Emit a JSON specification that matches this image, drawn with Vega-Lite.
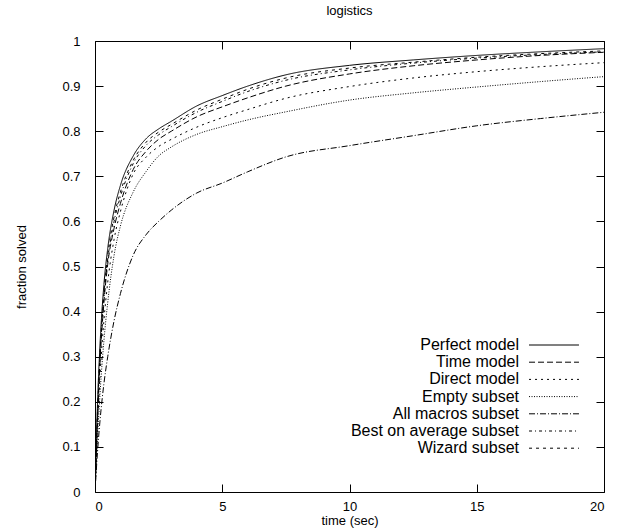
{
  "$schema": "https://vega.github.io/schema/vega-lite/v6.json",
  "width": 509,
  "height": 451,
  "autosize": {"type": "none"},
  "padding": {"left": 95, "top": 41, "right": 22, "bottom": 37},
  "background": "white",
  "title": {"text": "logistics", "font": "Liberation Sans", "fontSize": 13, "fontWeight": "normal", "color": "black", "offset": 17},
  "config": {
    "view": {"stroke": "black", "strokeWidth": 1},
    "axis": {
      "labelFont": "Liberation Sans", "labelFontSize": 13, "labelColor": "black",
      "titleFont": "Liberation Sans", "titleFontSize": 13, "titleFontWeight": "normal", "titleColor": "black",
      "domain": false, "ticks": true, "tickColor": "black", "tickWidth": 1, "tickOpacity": 1, "grid": false, "tickSize": 8, "offset": -8
    },
    "legend": {
      "labelFont": "Liberation Sans", "labelFontSize": 16, "labelColor": "black", "labelLimit": 0,
      "symbolStrokeColor": "black"
    }
  },
  "data": {
    "values": [
      {"series": "Perfect model", "t": 0, "f": 0},
      {"series": "Perfect model", "t": 0.1, "f": 0.2},
      {"series": "Perfect model", "t": 0.2, "f": 0.33},
      {"series": "Perfect model", "t": 0.35, "f": 0.46},
      {"series": "Perfect model", "t": 0.5, "f": 0.54},
      {"series": "Perfect model", "t": 0.75, "f": 0.625},
      {"series": "Perfect model", "t": 1, "f": 0.68},
      {"series": "Perfect model", "t": 1.5, "f": 0.745},
      {"series": "Perfect model", "t": 2, "f": 0.783},
      {"series": "Perfect model", "t": 2.5, "f": 0.805},
      {"series": "Perfect model", "t": 3, "f": 0.822},
      {"series": "Perfect model", "t": 4, "f": 0.856},
      {"series": "Perfect model", "t": 5, "f": 0.879},
      {"series": "Perfect model", "t": 6, "f": 0.9},
      {"series": "Perfect model", "t": 7.5, "f": 0.925},
      {"series": "Perfect model", "t": 10, "f": 0.946},
      {"series": "Perfect model", "t": 12.5, "f": 0.958},
      {"series": "Perfect model", "t": 15, "f": 0.968},
      {"series": "Perfect model", "t": 17.5, "f": 0.976},
      {"series": "Perfect model", "t": 20, "f": 0.983},

      {"series": "Time model", "t": 0, "f": 0},
      {"series": "Time model", "t": 0.1, "f": 0.16},
      {"series": "Time model", "t": 0.2, "f": 0.29},
      {"series": "Time model", "t": 0.35, "f": 0.42},
      {"series": "Time model", "t": 0.5, "f": 0.505},
      {"series": "Time model", "t": 0.75, "f": 0.585},
      {"series": "Time model", "t": 1, "f": 0.64},
      {"series": "Time model", "t": 1.5, "f": 0.715},
      {"series": "Time model", "t": 2, "f": 0.755},
      {"series": "Time model", "t": 2.5, "f": 0.782},
      {"series": "Time model", "t": 3, "f": 0.8},
      {"series": "Time model", "t": 4, "f": 0.832},
      {"series": "Time model", "t": 5, "f": 0.854},
      {"series": "Time model", "t": 6, "f": 0.874},
      {"series": "Time model", "t": 7.5, "f": 0.9},
      {"series": "Time model", "t": 10, "f": 0.927},
      {"series": "Time model", "t": 12.5, "f": 0.945},
      {"series": "Time model", "t": 15, "f": 0.958},
      {"series": "Time model", "t": 17.5, "f": 0.968},
      {"series": "Time model", "t": 20, "f": 0.975},

      {"series": "Direct model", "t": 0, "f": 0},
      {"series": "Direct model", "t": 0.1, "f": 0.15},
      {"series": "Direct model", "t": 0.2, "f": 0.26},
      {"series": "Direct model", "t": 0.35, "f": 0.38},
      {"series": "Direct model", "t": 0.5, "f": 0.465},
      {"series": "Direct model", "t": 0.75, "f": 0.56},
      {"series": "Direct model", "t": 1, "f": 0.622},
      {"series": "Direct model", "t": 1.5, "f": 0.705},
      {"series": "Direct model", "t": 2, "f": 0.742},
      {"series": "Direct model", "t": 2.5, "f": 0.766},
      {"series": "Direct model", "t": 3, "f": 0.782},
      {"series": "Direct model", "t": 4, "f": 0.809},
      {"series": "Direct model", "t": 5, "f": 0.83},
      {"series": "Direct model", "t": 6, "f": 0.848},
      {"series": "Direct model", "t": 7.5, "f": 0.873},
      {"series": "Direct model", "t": 10, "f": 0.899},
      {"series": "Direct model", "t": 12.5, "f": 0.918},
      {"series": "Direct model", "t": 15, "f": 0.932},
      {"series": "Direct model", "t": 17.5, "f": 0.943},
      {"series": "Direct model", "t": 20, "f": 0.952},

      {"series": "Empty subset", "t": 0, "f": 0},
      {"series": "Empty subset", "t": 0.1, "f": 0.12},
      {"series": "Empty subset", "t": 0.2, "f": 0.22},
      {"series": "Empty subset", "t": 0.35, "f": 0.335},
      {"series": "Empty subset", "t": 0.5, "f": 0.42},
      {"series": "Empty subset", "t": 0.75, "f": 0.525},
      {"series": "Empty subset", "t": 1, "f": 0.59},
      {"series": "Empty subset", "t": 1.5, "f": 0.665},
      {"series": "Empty subset", "t": 2, "f": 0.71},
      {"series": "Empty subset", "t": 2.5, "f": 0.745},
      {"series": "Empty subset", "t": 3, "f": 0.765},
      {"series": "Empty subset", "t": 4, "f": 0.793},
      {"series": "Empty subset", "t": 5, "f": 0.81},
      {"series": "Empty subset", "t": 6, "f": 0.825},
      {"series": "Empty subset", "t": 7.5, "f": 0.843},
      {"series": "Empty subset", "t": 10, "f": 0.869},
      {"series": "Empty subset", "t": 12.5, "f": 0.885},
      {"series": "Empty subset", "t": 15, "f": 0.898},
      {"series": "Empty subset", "t": 17.5, "f": 0.91},
      {"series": "Empty subset", "t": 20, "f": 0.921},

      {"series": "All macros subset", "t": 0, "f": 0},
      {"series": "All macros subset", "t": 0.1, "f": 0.09},
      {"series": "All macros subset", "t": 0.2, "f": 0.16},
      {"series": "All macros subset", "t": 0.35, "f": 0.24},
      {"series": "All macros subset", "t": 0.5, "f": 0.3},
      {"series": "All macros subset", "t": 0.75, "f": 0.38},
      {"series": "All macros subset", "t": 1, "f": 0.44},
      {"series": "All macros subset", "t": 1.5, "f": 0.525},
      {"series": "All macros subset", "t": 2, "f": 0.57},
      {"series": "All macros subset", "t": 2.5, "f": 0.6},
      {"series": "All macros subset", "t": 3, "f": 0.625},
      {"series": "All macros subset", "t": 4, "f": 0.663},
      {"series": "All macros subset", "t": 5, "f": 0.685},
      {"series": "All macros subset", "t": 6, "f": 0.71},
      {"series": "All macros subset", "t": 7.5, "f": 0.743},
      {"series": "All macros subset", "t": 10, "f": 0.768},
      {"series": "All macros subset", "t": 12.5, "f": 0.79},
      {"series": "All macros subset", "t": 15, "f": 0.812},
      {"series": "All macros subset", "t": 17.5, "f": 0.828},
      {"series": "All macros subset", "t": 20, "f": 0.842},

      {"series": "Best on average subset", "t": 0, "f": 0},
      {"series": "Best on average subset", "t": 0.1, "f": 0.17},
      {"series": "Best on average subset", "t": 0.2, "f": 0.3},
      {"series": "Best on average subset", "t": 0.35, "f": 0.43},
      {"series": "Best on average subset", "t": 0.5, "f": 0.515},
      {"series": "Best on average subset", "t": 0.75, "f": 0.6},
      {"series": "Best on average subset", "t": 1, "f": 0.655},
      {"series": "Best on average subset", "t": 1.5, "f": 0.728},
      {"series": "Best on average subset", "t": 2, "f": 0.768},
      {"series": "Best on average subset", "t": 2.5, "f": 0.792},
      {"series": "Best on average subset", "t": 3, "f": 0.81},
      {"series": "Best on average subset", "t": 4, "f": 0.842},
      {"series": "Best on average subset", "t": 5, "f": 0.866},
      {"series": "Best on average subset", "t": 6, "f": 0.888},
      {"series": "Best on average subset", "t": 7.5, "f": 0.913},
      {"series": "Best on average subset", "t": 10, "f": 0.936},
      {"series": "Best on average subset", "t": 12.5, "f": 0.951},
      {"series": "Best on average subset", "t": 15, "f": 0.962},
      {"series": "Best on average subset", "t": 17.5, "f": 0.97},
      {"series": "Best on average subset", "t": 20, "f": 0.976},

      {"series": "Wizard subset", "t": 0, "f": 0},
      {"series": "Wizard subset", "t": 0.1, "f": 0.18},
      {"series": "Wizard subset", "t": 0.2, "f": 0.31},
      {"series": "Wizard subset", "t": 0.35, "f": 0.44},
      {"series": "Wizard subset", "t": 0.5, "f": 0.525},
      {"series": "Wizard subset", "t": 0.75, "f": 0.61},
      {"series": "Wizard subset", "t": 1, "f": 0.665},
      {"series": "Wizard subset", "t": 1.5, "f": 0.735},
      {"series": "Wizard subset", "t": 2, "f": 0.775},
      {"series": "Wizard subset", "t": 2.5, "f": 0.798},
      {"series": "Wizard subset", "t": 3, "f": 0.815},
      {"series": "Wizard subset", "t": 4, "f": 0.847},
      {"series": "Wizard subset", "t": 5, "f": 0.871},
      {"series": "Wizard subset", "t": 6, "f": 0.893},
      {"series": "Wizard subset", "t": 7.5, "f": 0.918},
      {"series": "Wizard subset", "t": 10, "f": 0.94},
      {"series": "Wizard subset", "t": 12.5, "f": 0.953},
      {"series": "Wizard subset", "t": 15, "f": 0.964},
      {"series": "Wizard subset", "t": 17.5, "f": 0.972},
      {"series": "Wizard subset", "t": 20, "f": 0.978}
    ]
  },
  "layer": [
    {
      "mark": {"type": "line", "interpolate": "monotone", "strokeWidth": 1, "color": "black", "clip": true},
      "encoding": {
        "x": {"field": "t", "type": "quantitative", "scale": {"domain": [0, 20], "nice": false},
              "axis": {"title": "time (sec)", "values": [0, 5, 10, 15, 20], "ticks": true, "tickSize": 8, "offset": -8, "labelPadding": 8, "titlePadding": 1}},
        "y": {"field": "f", "type": "quantitative", "scale": {"domain": [0, 1], "nice": false},
              "axis": {"title": "fraction solved", "values": [0, 0.1, 0.2, 0.3, 0.4, 0.5, 0.6, 0.7, 0.8, 0.9, 1], "format": ".1~f", "ticks": true, "tickSize": 8, "offset": -8, "labelPadding": 15, "titlePadding": 33}},
        "strokeDash": {
          "field": "series", "type": "nominal",
          "scale": {
            "domain": ["Perfect model", "Time model", "Direct model", "Empty subset", "All macros subset", "Best on average subset", "Wizard subset"],
            "range": [[1, 0], [6, 3], [2, 4], [1, 1.5], [6, 2, 1, 2], [3, 3, 1, 3], [3, 4]]
          },
          "legend": {
            "title": null, "orient": "none", "legendX": 451, "legendY": 296,
            "symbolType": "M-4,0L4,0", "symbolSize": 156, "symbolStrokeWidth": 1,
            "labelAlign": "right", "labelOffset": -43, "rowPadding": 1.2
          }
        }
      }
    },
    {
      "mark": {"type": "line", "strokeOpacity": 0},
      "encoding": {
        "x": {"field": "t", "type": "quantitative", "axis": {"orient": "top", "labels": false, "title": null, "ticks": true, "tickSize": 8, "offset": -8, "values": [0, 5, 10, 15, 20]}},
        "y": {"field": "f", "type": "quantitative", "axis": {"orient": "right", "labels": false, "title": null, "ticks": true, "tickSize": 8, "offset": -8, "values": [0, 0.1, 0.2, 0.3, 0.4, 0.5, 0.6, 0.7, 0.8, 0.9, 1]}},
        "detail": {"field": "series", "type": "nominal"}
      }
    }
  ],
  "resolve": {"axis": {"x": "independent", "y": "independent"}}
}
